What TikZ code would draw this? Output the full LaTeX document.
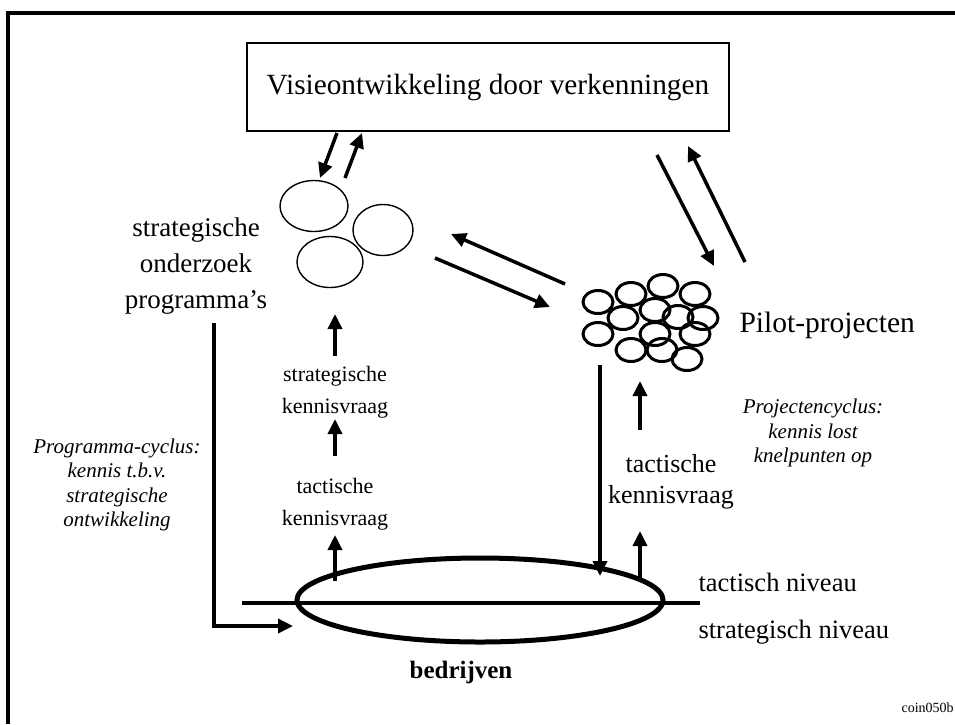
\documentclass[tikz,border=0pt]{standalone}
\usepackage{fontspec}
\setmainfont{Liberation Serif}
\usetikzlibrary{arrows.meta,shapes.geometric}
\tikzset{
  thk/.style={line width=3.5pt},
  arr/.style={line width=3.5pt,-{Triangle[length=15pt,width=14pt]}},
  circ/.style={ellipse,draw,line width=1.4pt,inner sep=0pt},
  pil/.style={ellipse,draw,line width=3pt,minimum width=30pt,minimum height=23pt,inner sep=0pt},
  big/.style={font=\fontsize{27}{36}\selectfont,align=center},
  mid/.style={font=\fontsize{22}{32}\selectfont,align=center},
  lrg/.style={font=\fontsize{26}{31}\selectfont,align=center},
  ita/.style={font=\fontsize{21}{24.5}\selectfont\itshape,align=center},
}
\begin{document}
\begin{tikzpicture}[x=1pt,y=-1pt]
\useasboundingbox (0,0) rectangle (955,724);
% frame
\draw[line width=4pt] (7.5,724) -- (7.5,13) -- (955,13);
% top box
\node[draw,line width=1.4pt,minimum width=482pt,minimum height=88pt,font=\fontsize{29.3}{34}\selectfont] (vis) at (488,87) {Visieontwikkeling door verkenningen};
% left circles
\node[circ,minimum width=68pt,minimum height=51pt] (c1) at (314,206) {};
\node[circ,minimum width=60pt,minimum height=51pt] (c2) at (383,230) {};
\node[circ,minimum width=66pt,minimum height=51pt] (c3) at (330,262) {};
% pilot cluster
\node[pil] (p1) at (598,302) {};
\node[pil] (p2) at (631,294) {};
\node[pil] (p3) at (663,286) {};
\node[pil] (p4) at (695,294) {};
\node[pil] (p5) at (623,318) {};
\node[pil] (p6) at (655,310) {};
\node[pil] (p7) at (678,317) {};
\node[pil] (p8) at (703,318) {};
\node[pil] (p9) at (598,334) {};
\node[pil] (p10) at (655,334) {};
\node[pil] (p11) at (695,334) {};
\node[pil] (p12) at (631,350) {};
\node[pil] (p13) at (662,350) {};
\node[pil] (p14) at (687,359) {};
% bottom ellipse and level line
\coordinate (lnL) at (242,603);
\coordinate (lnR) at (700,603);
\draw[thk] (lnL) -- (lnR);
\node[ellipse,draw,line width=5pt,minimum width=366pt,minimum height=84pt,inner sep=0pt] (bed) at (480,600) {};
% texts
\node[big] (sop) at (196,266) {strategische\\onderzoek\\programma's};
\node[font=\fontsize{29.5}{34}\selectfont,anchor=west] (pp) at (736,325) {Pilot-projecten};
\node[mid] (skv) at (335,392) {strategische\\kennisvraag};
\node[mid] (tkv) at (335,504) {tactische\\kennisvraag};
\node[lrg] (tkv2) at (671,482) {tactische\\kennisvraag};
\node[ita] (pc) at (117,485) {Programma-cyclus:\\kennis t.b.v.\\strategische\\ontwikkeling};
\node[ita] (prc) at (813,433) {Projectencyclus:\\kennis lost\\knelpunten op};
\node[font=\fontsize{26.5}{31}\selectfont,anchor=west] (tn) at (695,582) {tactisch niveau};
\node[font=\fontsize{26.5}{31}\selectfont,anchor=west] (sn) at (695,632) {strategisch niveau};
\node[font=\fontsize{25}{30}\selectfont\bfseries] (bd) at (461,672) {bedrijven};
\node[font=\fontsize{14}{17}\selectfont,anchor=west] (coin) at (898,708) {coin050b};
% arrow coordinates
\coordinate (a1s) at (337,133); \coordinate (a1e) at (320,178);
\coordinate (a2s) at (345,178); \coordinate (a2e) at (362,133);
\coordinate (a3s) at (657,155); \coordinate (a3e) at (714,266);
\coordinate (a4s) at (745,262); \coordinate (a4e) at (688,146);
\coordinate (a5s) at (565,284); \coordinate (a5e) at (451,234);
\coordinate (a6s) at (435,258); \coordinate (a6e) at (550,307);
% arrows
\draw[arr] (a1s) -- (a1e);
\draw[arr] (a2s) -- (a2e);
\draw[arr] (a3s) -- (a3e);
\draw[arr] (a4s) -- (a4e);
\draw[arr] (a5s) -- (a5e);
\draw[arr] (a6s) -- (a6e);
% left column
\draw[arr] (335,356) -- (335,314);
\draw[arr] (335,456) -- (335,419);
\draw[arr] (335,581) -- (335,535);
% right column
\draw[arr] (600,365) -- (600,576);
\draw[arr] (640,430) -- (640,381);
\draw[arr] (640,578) -- (640,531);
% left loop
\draw[line width=3.5pt,-{Triangle[length=15pt,width=14pt]}] (214,323) -- (214,626) -- (293,626);
\end{tikzpicture}
\end{document}
